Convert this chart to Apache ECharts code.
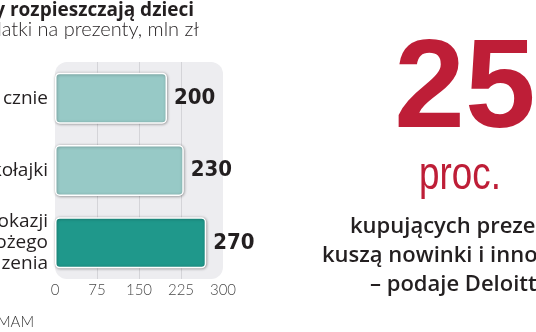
<!DOCTYPE html>
<html><head><meta charset="utf-8">
<script src="https://cdn.jsdelivr.net/npm/echarts@6/dist/echarts.min.js"></script>
<style>html,body{margin:0;padding:0;background:#fff}#c{width:536px;height:332px}</style>
</head><body><div id="c"></div>
<script>
const categories = ['cznie', 'kołajki', 'okazji\nożego\nzenia'];
const values = [200, 230, 270];
const xTicks = [0, 75, 150, 225, 300];
const titleText = 'y rozpieszczają dzieci';
const subtitleText = 'Wydatki na prezenty, mln zł';
const sourceText = 'MAM';
const bigNumber = '25';
const bigUnit = 'proc.';
const noteLines = ['kupujących preze', 'kuszą nowinki i inno', '– podaje Deloitt'];

const chart = echarts.init(document.getElementById('c'), null, {renderer: 'canvas'});
const light = '#97c9c6', dark = '#1f988b', red = '#be1e37', ink = '#231f20';
const grid = {left: 55, top: 62, width: 168, height: 217};

function txt(text, x, y, font, fill, align, extra) {
  return Object.assign({type: 'text', style: {text: text, x: x, y: y, align: align || 'left', verticalAlign: 'middle', font: font, fill: fill}}, extra || {});
}

chart.setOption({
  animation: false,
  grid: Object.assign({containLabel: false, outerBoundsMode: 'none'}, grid),
  xAxis: {
    type: 'value', min: xTicks[0], max: xTicks[xTicks.length-1], interval: xTicks[1]-xTicks[0],
    axisLine: {show: false}, axisTick: {show: false},
    axisLabel: {margin: 4, color: '#4a4a4a', fontFamily: 'Lato', fontWeight: 300, fontSize: 15},
    splitLine: {lineStyle: {color: ['rgba(0,0,0,0)', '#d4d4d8', '#d4d4d8', '#d4d4d8', 'rgba(0,0,0,0)'], width: 1}}
  },
  yAxis: {
    type: 'category', data: categories, inverse: true,
    axisLine: {show: false}, axisTick: {show: false},
    axisLabel: {margin: 7, color: ink, fontFamily: 'Open Sans', fontSize: 19, lineHeight: 21, align: 'right'}
  },
  graphic: [
    {type: 'rect', z: -10, shape: {x: grid.left, y: grid.top, width: grid.width, height: grid.height, r: 12},
     style: {fill: '#ededf0'}},
    txt(titleText, 194, 10.5, 'bold 19px "Open Sans"', ink, 'right'),
    txt(subtitleText, 199, 30, '300 20px Lato', ink, 'right'),
    txt(sourceText, -3, 322, '300 15px Lato', '#333', 'left'),
    txt(bigNumber, 465, 92, 'bold 127px "Liberation Sans"', red, 'center'),
    txt(bigUnit, 0, 0, '46px "Liberation Sans"', red, 'center', {x: 460, y: 176, scaleX: 0.8}),
    txt(noteLines[0], 350, 227, '600 22px "Open Sans"', ink, 'left'),
    txt(noteLines[1], 322, 256, '600 22px "Open Sans"', ink, 'left'),
    txt(noteLines[2], 370, 285, '600 22px "Open Sans"', ink, 'left')
  ],
  series: [{
    type: 'bar', data: values, barWidth: 51, z: 5,
    itemStyle: {
      color: p => p.dataIndex === values.length - 1 ? dark : light,
      borderColor: '#ffffff', borderWidth: 1.5, borderRadius: 4,
      shadowBlur: 3, shadowColor: 'rgba(0,0,0,0.35)', shadowOffsetX: 0.5, shadowOffsetY: 0.5
    },
    label: {show: true, position: 'right', distance: 7, color: ink,
      fontFamily: 'DejaVu Sans Condensed', fontWeight: 'bold', fontSize: 22}
  }]
});
</script></body></html>
